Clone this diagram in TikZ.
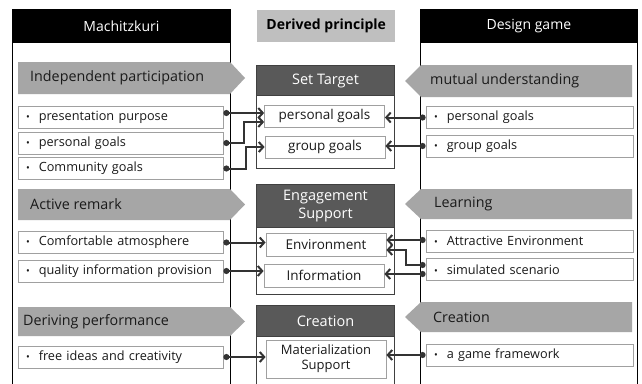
\documentclass[tikz,border=0pt]{standalone}
\usepackage{fontspec}
\setmainfont{Open Sans}
\usetikzlibrary{arrows.meta}

\definecolor{bannergray}{HTML}{A6A6A6}
\definecolor{derivedgray}{HTML}{BFBFBF}
\definecolor{headgray}{HTML}{595959}
\definecolor{middark}{HTML}{404040}
\definecolor{itemgray}{HTML}{A0A0A0}
\definecolor{textdark}{HTML}{1A1A1A}
\definecolor{conncolor}{HTML}{333333}

% bullet line of a list box, kept on one line
\newcommand\itemline[1]{\mbox{{\fontsize{10}{10}\selectfont\textbullet}\hspace{9pt}#1}}

\tikzset{
  colbox/.style={draw=black, line width=0.8pt, fill=white, inner sep=0pt},
  colhead/.style={draw=black, line width=0.8pt, fill=black, text=white,
    font=\fontsize{14}{16}\selectfont, inner sep=0pt},
  derived/.style={fill=derivedgray, text=black,
    font=\bfseries\fontsize{14}{16}\selectfont, inner sep=0pt},
  banner/.style={fill=bannergray},
  bannertext/.style={anchor=west, text=textdark,
    font=\fontsize{14.3}{17}\selectfont, inner sep=0pt},
  itembox/.style={draw=itemgray, line width=0.8pt, fill=white,
    minimum height=22pt, inner xsep=8pt, inner ysep=0pt, align=left,
    font=\fontsize{12.7}{15}\selectfont, text=textdark},
  litem/.style={itembox, text width=189pt},
  ritem/.style={itembox, text width=191pt},
  midbox/.style={draw=middark, line width=1pt, fill=white, inner sep=0pt,
    minimum width=138pt, anchor=north west},
  midhead/.style={draw=middark, line width=1pt, fill=headgray, text=white,
    font=\fontsize{14.5}{17.5}\selectfont, align=center, inner sep=0pt,
    minimum width=138pt, anchor=north west},
  inbox/.style={draw=itemgray, line width=0.8pt, fill=white,
    minimum width=120pt, minimum height=22pt, align=center, inner sep=0pt,
    font=\fontsize{13.5}{15.5}\selectfont, text=textdark},
  conn/.style={draw=conncolor, line width=2pt,
    {Circle[length=6pt]}-{Straight Barb[length=4.5pt,width=10pt]}},
}

\begin{document}
\begin{tikzpicture}[x=1pt,y=-1pt]
\useasboundingbox (0,0) rectangle (642,383);
\clip (0,0) rectangle (642,383);
\fill[white] (0,0) rectangle (642,383);

% ---- outer columns ----
\node[colbox, minimum width=218pt, minimum height=390pt, anchor=north west] (leftcol) at (12,9) {};
\node[colhead, minimum width=218pt, minimum height=33pt, anchor=north west] (lefthead) at (12,9) {Machitzkuri};
\node[colbox, minimum width=217pt, minimum height=390pt, anchor=north west] (rightcol) at (420,9) {};
\node[colhead, minimum width=217pt, minimum height=33pt, anchor=north west] (righthead) at (420,9) {Design game};
\node[derived, minimum width=138pt, minimum height=32pt, anchor=north west] (derived) at (257,10) {Derived principle};

% ---- left banners ----
\fill[banner] (18,62) -- (230,62) -- (245,78) -- (230,94) -- (18,94) -- cycle;
\node[bannertext] (lb1) at (30,78) {Independent participation};
\fill[banner] (18,189) -- (230,189) -- (245,204.5) -- (230,220) -- (18,220) -- cycle;
\node[bannertext] (lb2) at (30,204.5) {Active remark};
\fill[banner] (18,307) -- (230,307) -- (245,321.5) -- (230,336) -- (18,336) -- cycle;
\node[bannertext] (lb3) at (23,321.5) {Deriving performance};

% ---- right banners ----
\fill[banner] (632,65) -- (421,65) -- (405,81) -- (421,97) -- (632,97) -- cycle;
\node[bannertext] (rb1) at (430,81) {mutual understanding};
\fill[banner] (632,189) -- (421,189) -- (405,204) -- (421,219) -- (632,219) -- cycle;
\node[bannertext] (rb2) at (434,204) {Learning};
\fill[banner] (632,302) -- (421,302) -- (405,317) -- (421,332) -- (632,332) -- cycle;
\node[bannertext] (rb3) at (433,317) {Creation};

% ---- left items ----
\node[litem] (L1) at (120.5,117) {\itemline{presentation purpose}};
\node[litem] (L2) at (120.5,143) {\itemline{personal goals}};
\node[litem] (L3) at (120.5,168.5) {\itemline{Community goals}};
\node[litem] (L4) at (120.5,242.5) {\itemline{Comfortable atmosphere}};
\node[litem] (L5) at (120.5,271) {\itemline{quality information provision}};
\node[litem] (L6) at (120.5,357) {\itemline{free ideas and creativity}};

% ---- right items ----
\node[ritem] (R1) at (529.5,117.5) {\itemline{personal goals}};
\node[ritem] (R2) at (529.5,146) {\itemline{group goals}};
\node[ritem] (R3) at (529.5,241) {\itemline{Attractive Environment}};
\node[ritem] (R4) at (529.5,269.5) {\itemline{simulated scenario}};
\node[ritem] (R5) at (529.5,355) {\itemline{a game framework}};

% ---- derived principles ----
\node[midbox, minimum height=103pt] (setbox) at (256,65) {};
\node[midhead, minimum height=30pt] (sethead) at (256,65) {Set Target};
\node[inbox] (T1) at (324.5,116) {personal goals};
\node[inbox] (T2) at (325,147) {group goals};

\node[midbox, minimum height=110pt] (engbox) at (256,184) {};
\node[midhead, minimum height=43pt] (enghead) at (256,184) {Engagement\\Support};
\node[inbox, minimum height=23pt] (Env) at (326,244.5) {Environment};
\node[inbox, minimum height=23pt] (Info) at (324,275.5) {Information};

\node[midbox, minimum height=95pt] (crebox) at (256,305) {};
\node[midhead, minimum height=31pt] (crehead) at (256,305) {Creation};
\node[inbox, minimum height=38pt, font=\fontsize{13}{15}\selectfont] (Mat) at (326,359) {Materialization\\Support};

% ---- connectors from the left column ----
\coordinate (l1a) at ([yshift=4pt]L1.east);
\draw[conn] (l1a) -- (l1a -| T1.west);
\draw[conn] (L2.east) -- ++(21,0) |- ([yshift=-6pt]T1.west);
\draw[conn] (L3.east) -- ++(23,0) |- (T2.west);
\draw[conn] (L4.east) -- (L4.east -| Env.west);
\draw[conn] (L5.east) -- (L5.east -| Info.west);
\draw[conn] (L6.east) -- (L6.east -| Mat.west);

% ---- connectors from the right column ----
\draw[conn] (R1.west) -- (R1.west -| T1.east);
\draw[conn] (R2.west) -- (R2.west -| T2.east);
\coordinate (r3a) at ([yshift=1pt]R3.west);
\draw[conn] (r3a) -- (r3a -| Env.east);
\draw[conn] ([yshift=4.5pt]R4.west) -- ++(-20,0) |- ([yshift=-5.5pt]Env.east);
\coordinate (r4b) at ([yshift=-4.5pt]R4.west);
\draw[conn] (r4b) -- (r4b -| Info.east);
\draw[conn] (R5.west) -- (R5.west -| Mat.east);
\end{tikzpicture}
\end{document}
